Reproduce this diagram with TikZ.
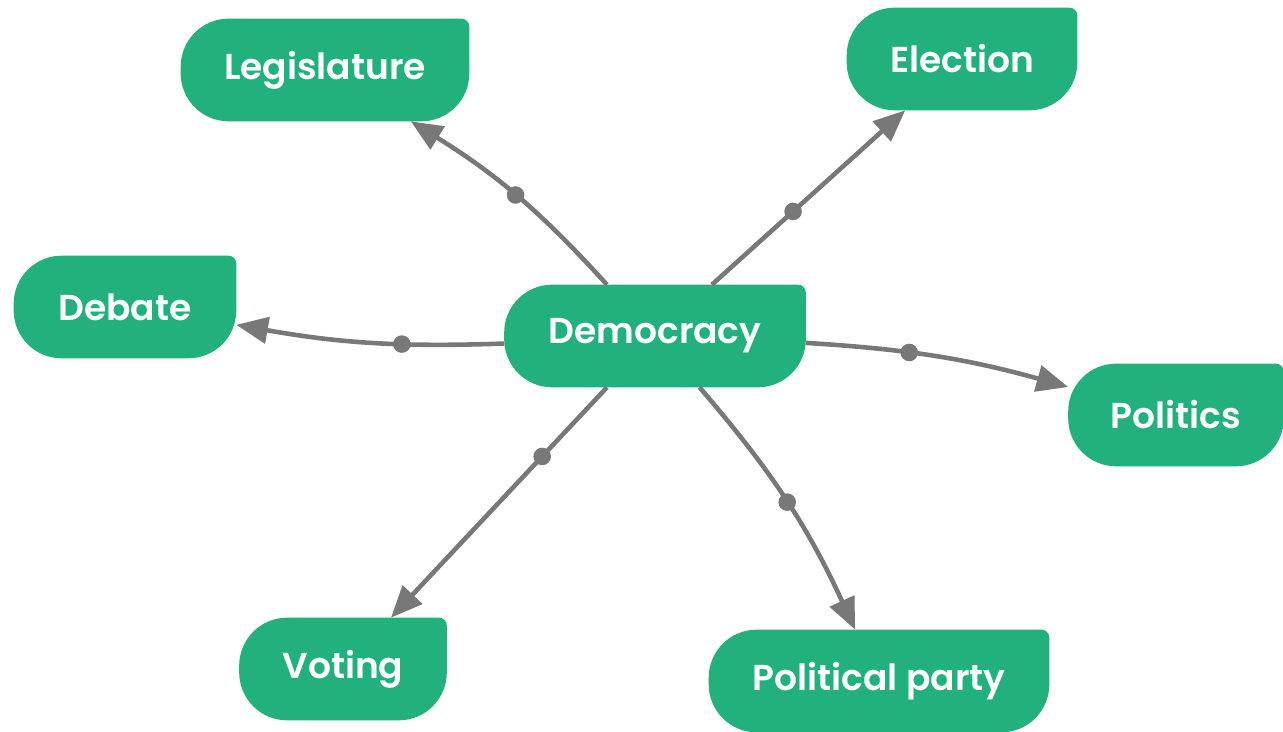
\documentclass[tikz,border=0pt]{standalone}
\usepackage{fontspec}
\setmainfont{Poppins}[BoldFont={Poppins SemiBold}]
\usepackage{tikz}
\usetikzlibrary{arrows.meta,backgrounds}

\definecolor{topicgreen}{RGB}{34,176,125}
\definecolor{linkgray}{RGB}{120,120,120}

\begin{document}
\begin{tikzpicture}[x=0.02cm,y=-0.02cm,
	topic/.style={minimum height=2.04cm,inner sep=0,text=white,font=\fontsize{20.5}{24}\selectfont\bfseries},
	link/.style={draw=linkgray,line width=2.6pt,-{Triangle[length=18pt,width=15pt]}},
	dot/.style={circle,fill=linkgray,inner sep=0,minimum size=10pt}]
	\useasboundingbox (0,0) rectangle (1283,732);

	% topics
	\node[topic,minimum width=6.02cm] (dem) at (655,336) {Democracy};
	\node[topic,minimum width=5.76cm] (leg) at (325,70) {Legislature};
	\node[topic,minimum width=4.60cm] (ele) at (962,59) {Election};
	\node[topic,minimum width=4.44cm] (deb) at (125,307) {Debate};
	\node[topic,minimum width=4.30cm] (pol) at (1176,415) {Politics};
	\node[topic,minimum width=4.14cm] (vot) at (343,669) {Voting};
	\node[topic,minimum width=6.80cm] (par) at (879,681) {Political party};

	% rounded boxes, top right corner almost square
	\begin{scope}[on background layer]
		\foreach \n in {dem,leg,ele,deb,pol,vot,par}
			\fill[topicgreen] ([yshift=-0.96cm]\n.north west) arc[start angle=180,end angle=90,radius=0.96cm]
				-- ([xshift=-0.16cm]\n.north east) arc[start angle=90,end angle=0,radius=0.16cm]
				-- ([yshift=0.96cm]\n.south east) arc[start angle=0,end angle=-90,radius=0.96cm]
				-- ([xshift=0.96cm]\n.south west) arc[start angle=270,end angle=180,radius=0.96cm]
				-- cycle;
	\end{scope}

	% links
	\draw[link] (dem) to[bend right=8] node[dot,pos=.5] {} (leg);
	\draw[link] (dem) -- (ele) node[dot,pos=.42] {};
	\draw[link] (dem) to[bend left=6] node[dot,pos=.37] {} (deb);
	\draw[link] (dem) to[bend left=6] node[dot,pos=.38] {} (pol);
	\draw[link] (dem) -- (vot) node[dot,pos=.3] {};
	\draw[link] (dem) to[bend left=8] node[dot,pos=.5] {} (par);
\end{tikzpicture}
\end{document}
